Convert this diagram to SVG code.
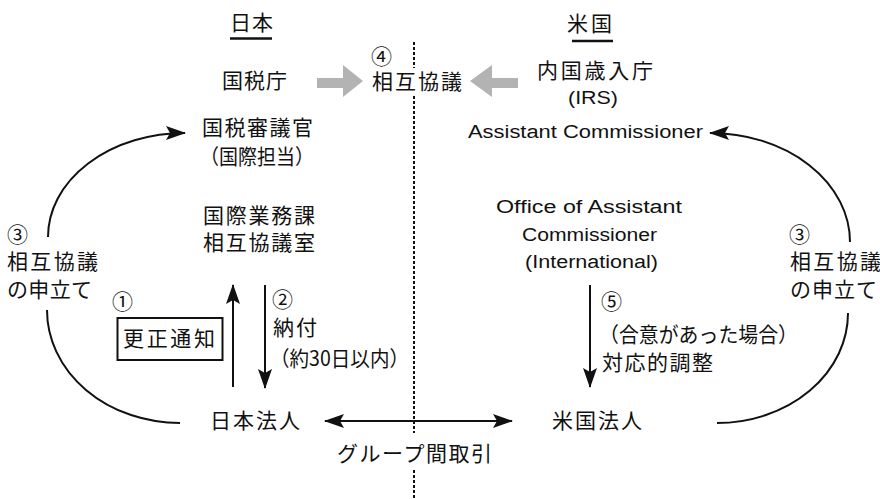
<svg xmlns="http://www.w3.org/2000/svg" width="880" height="499" viewBox="0 0 880 499">
<defs>
<marker id="ah" markerUnits="userSpaceOnUse" markerWidth="20" markerHeight="14" refX="19" refY="7" orient="auto-start-reverse">
<path d="M0,0 L20,7 L0,14 L4,7 z" fill="#111"/>
</marker>
<style>
.jp{font-family:"Noto Sans CJK JP","Noto Sans",sans-serif;font-size:21px;fill:#111}
.num{font-family:"Noto Sans CJK JP","Noto Sans",sans-serif;font-size:21px;fill:#111}
.en{font-family:"Liberation Sans","Noto Sans",sans-serif;font-size:18px;fill:#111}
.ln{fill:none;stroke:#111;stroke-width:2}
.gray{fill:#b3b3b3;stroke:none}
</style>
</defs>
<rect width="880" height="499" fill="#fff"/>

<g id="connectors">
<path class="ln" d="M414,42 V68 M414,96 V433 M414,470 V499" stroke-dasharray="3 2"/>
<path class="gray" d="M317,78 H343 V65 L363,81 L343,97 V88 H317 z"/>
<path class="gray" d="M518,78 H492 V65 L470,81 L492,97 V88 H518 z"/>
<path class="ln" d="M48,237 A137,104 0 0 1 185,133" marker-end="url(#ah)"/>
<path class="ln" d="M47,310 A133,113 0 0 0 180,423"/>
<path class="ln" d="M850,242 A140,109 0 0 0 710,133" marker-end="url(#ah)"/>
<path class="ln" d="M848,313 A131,110 0 0 1 717,423"/>
<line class="ln" x1="233" y1="387" x2="233" y2="285" marker-end="url(#ah)"/>
<line class="ln" x1="265" y1="285" x2="265" y2="388" marker-end="url(#ah)"/>
<line class="ln" x1="590" y1="285" x2="590" y2="387" marker-end="url(#ah)"/>
<line class="ln" x1="325" y1="421" x2="512" y2="421" marker-start="url(#ah)" marker-end="url(#ah)"/>
</g>

<g id="title-japan">
<text class="jp" x="230" y="30" textLength="43" lengthAdjust="spacing">日本</text>
<line x1="230" y1="38.5" x2="272" y2="38.5" stroke="#111" stroke-width="2.5"/>
</g>
<g id="title-us">
<text class="jp" x="567" y="31" textLength="45" lengthAdjust="spacing">米国</text>
<line x1="572" y1="41" x2="613" y2="41" stroke="#111" stroke-width="2.5"/>
</g>

<g id="nta"><text class="jp" x="222" y="88" textLength="65" lengthAdjust="spacing">国税庁</text></g>
<g id="map">
<text class="num" x="371" y="64">④</text>
<text class="jp" x="372" y="89" textLength="90" lengthAdjust="spacing">相互協議</text>
</g>
<g id="irs">
<text class="jp" x="537" y="78" textLength="116" lengthAdjust="spacing">内国歳入庁</text>
<text class="en" x="568" y="104" textLength="50" lengthAdjust="spacingAndGlyphs">(IRS)</text>
</g>
<g id="councillor">
<text class="jp" x="202" y="135" textLength="111" lengthAdjust="spacing">国税審議官</text>
<text class="jp" x="200" y="164" textLength="114" lengthAdjust="spacingAndGlyphs">（国際担当）</text>
</g>
<g id="assistant-commissioner">
<text class="en" x="468" y="138" textLength="235" lengthAdjust="spacingAndGlyphs">Assistant Commissioner</text>
</g>
<g id="mutual-office">
<text class="jp" x="203" y="223" textLength="112" lengthAdjust="spacing">国際業務課</text>
<text class="jp" x="203" y="250" textLength="112" lengthAdjust="spacing">相互協議室</text>
</g>
<g id="office-ac">
<text class="en" x="496" y="213" textLength="186" lengthAdjust="spacingAndGlyphs">Office of Assistant</text>
<text class="en" x="522" y="241" textLength="135" lengthAdjust="spacingAndGlyphs">Commissioner</text>
<text class="en" x="525" y="268" textLength="133" lengthAdjust="spacingAndGlyphs">(International)</text>
</g>
<g id="label-3-left">
<text class="num" x="7" y="242">③</text>
<text class="jp" x="7" y="269" textLength="91" lengthAdjust="spacing">相互協議</text>
<text class="jp" x="7" y="297" textLength="85" lengthAdjust="spacing">の申立て</text>
</g>
<g id="label-3-right">
<text class="num" x="789" y="242">③</text>
<text class="jp" x="790" y="269" textLength="91" lengthAdjust="spacing">相互協議</text>
<text class="jp" x="790" y="297" textLength="87" lengthAdjust="spacing">の申立て</text>
</g>
<g id="label-1">
<text class="num" x="112" y="309">①</text>
<rect x="117.5" y="318" width="105" height="42" fill="none" stroke="#111" stroke-width="2"/>
<text class="jp" x="123" y="346" textLength="92" lengthAdjust="spacing">更正通知</text>
</g>
<g id="label-2">
<text class="num" x="272" y="307">②</text>
<text class="jp" x="273" y="335" textLength="44" lengthAdjust="spacing">納付</text>
<text class="jp" x="270" y="366" textLength="139" lengthAdjust="spacingAndGlyphs">（約30日以内）</text>
</g>
<g id="label-5">
<text class="num" x="601" y="309">⑤</text>
<text class="jp" x="599" y="342" textLength="199" lengthAdjust="spacingAndGlyphs">（合意があった場合）</text>
<text class="jp" x="602" y="370" textLength="111" lengthAdjust="spacing">対応的調整</text>
</g>
<g id="jp-corp"><text class="jp" x="210" y="428" textLength="90" lengthAdjust="spacing">日本法人</text></g>
<g id="us-corp"><text class="jp" x="552" y="428" textLength="90" lengthAdjust="spacing">米国法人</text></g>
<g id="group-trade"><text class="jp" x="337" y="461" textLength="155" lengthAdjust="spacing">グループ間取引</text></g>
</svg>
